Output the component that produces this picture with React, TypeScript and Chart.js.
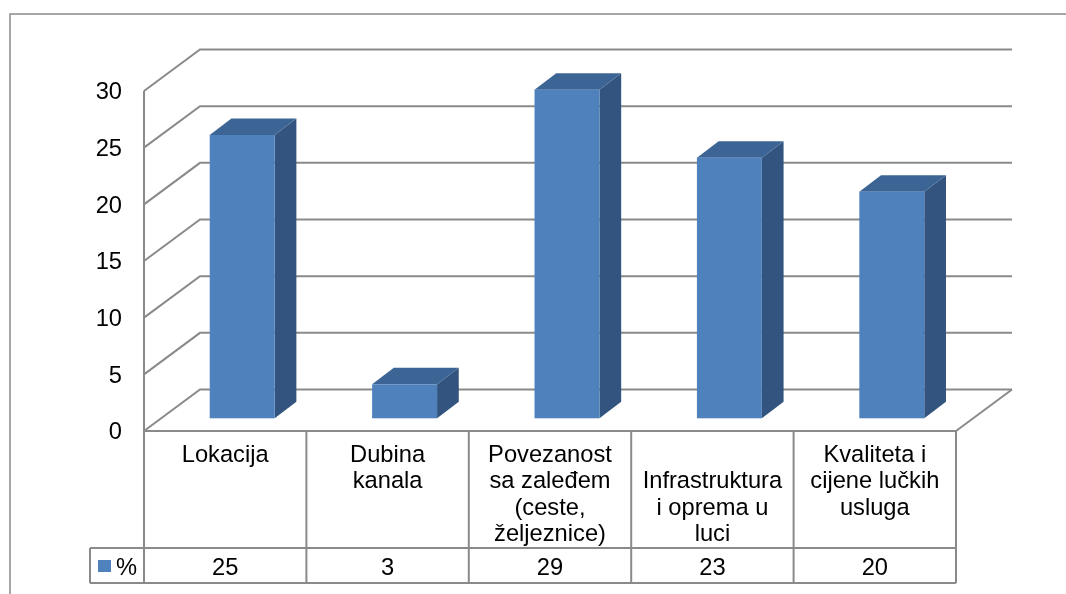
import React, { useEffect, useRef } from "react";
import { Chart, registerables } from "chart.js";

Chart.register(...registerables);

const categories: string[][] = [
  ["Lokacija"],
  ["Dubina", "kanala"],
  ["Povezanost", "sa zaleđem", "(ceste,", "željeznice)"],
  ["", "Infrastruktura", "i oprema u", "luci"],
  ["Kvaliteta i", "cijene lučkih", "usluga"],
];
const seriesName = "%";
const values: number[] = [25, 3, 29, 23, 20];
const yTicks: number[] = [0, 5, 10, 15, 20, 25, 30];

const FONT = '23.7px "Liberation Sans", Arial, sans-serif';
const LINE = "#8a8a8a";
const FRONT = "#4F81BD";
const TOP = "#3C6494";
const SIDE = "#32547F";

// 3D geometry
const WALL_DX = 56;
const WALL_DY = -41.5;
const BAR_FX = 17;
const BAR_FY = -12.7;
const BAR_DX = 21.7;
const BAR_DY = -16.5;
const LABEL_ROW_H = 117;
const VALUE_ROW_H = 35;
const LEGEND_W = 54;

const threeD = {
  id: "threeD",
  beforeDatasetsDraw(chart: any) {
    const ctx: CanvasRenderingContext2D = chart.ctx;
    const { left, right, top, bottom } = chart.chartArea;
    const ys = chart.scales.y;
    ctx.save();
    ctx.strokeStyle = LINE;
    ctx.lineWidth = 2;
    ctx.lineJoin = "miter";
    for (const v of yTicks) {
      const y = ys.getPixelForValue(v);
      ctx.beginPath();
      ctx.moveTo(left, y);
      ctx.lineTo(left + WALL_DX, y + WALL_DY);
      ctx.lineTo(right + WALL_DX, y + WALL_DY);
      ctx.stroke();
    }
    ctx.beginPath();
    ctx.moveTo(left, top);
    ctx.lineTo(left, bottom);
    ctx.stroke();
    ctx.beginPath();
    ctx.moveTo(right, bottom);
    ctx.lineTo(right + WALL_DX, bottom + WALL_DY);
    ctx.stroke();
    ctx.fillStyle = "#000";
    ctx.font = FONT;
    ctx.textAlign = "right";
    ctx.textBaseline = "alphabetic";
    for (const v of yTicks) {
      const y = ys.getPixelForValue(v);
      ctx.fillText(String(v), left - 22, y + 8.4);
    }
    ctx.restore();
  },
  afterDatasetsDraw(chart: any) {
    const ctx: CanvasRenderingContext2D = chart.ctx;
    const meta = chart.getDatasetMeta(0);
    ctx.save();
    meta.data.forEach((el: any) => {
      const { x, y, base, width } = el.getProps(["x", "y", "base", "width"], true);
      const x0 = x - width / 2 + BAR_FX;
      const x1 = x + width / 2 + BAR_FX;
      const yt = y + BAR_FY;
      const yb = base + BAR_FY;
      ctx.fillStyle = SIDE;
      ctx.beginPath();
      ctx.moveTo(x1, yt);
      ctx.lineTo(x1 + BAR_DX, yt + BAR_DY);
      ctx.lineTo(x1 + BAR_DX, yb + BAR_DY);
      ctx.lineTo(x1, yb);
      ctx.closePath();
      ctx.fill();
      ctx.fillStyle = TOP;
      ctx.beginPath();
      ctx.moveTo(x0, yt);
      ctx.lineTo(x0 + BAR_DX, yt + BAR_DY);
      ctx.lineTo(x1 + BAR_DX, yt + BAR_DY);
      ctx.lineTo(x1, yt);
      ctx.closePath();
      ctx.fill();
      ctx.fillStyle = FRONT;
      ctx.fillRect(x0, yt, x1 - x0, yb - yt);
    });
    ctx.restore();
  },
  afterDraw(chart: any) {
    const ctx: CanvasRenderingContext2D = chart.ctx;
    const { left, right, bottom } = chart.chartArea;
    const xs = chart.scales.x;
    const n = categories.length;
    const cw = (right - left) / n;
    const rowY = bottom + LABEL_ROW_H;
    const tableBottom = rowY + VALUE_ROW_H;
    ctx.save();
    ctx.strokeStyle = LINE;
    ctx.lineWidth = 1.5;
    ctx.beginPath();
    ctx.moveTo(10, chart.height);
    ctx.lineTo(10, 14);
    ctx.lineTo(chart.width, 14);
    ctx.stroke();
    ctx.lineWidth = 2;
    ctx.beginPath();
    ctx.moveTo(left, bottom);
    ctx.lineTo(right, bottom);
    ctx.moveTo(left - LEGEND_W, rowY);
    ctx.lineTo(right, rowY);
    ctx.moveTo(left - LEGEND_W, tableBottom);
    ctx.lineTo(right, tableBottom);
    ctx.moveTo(left - LEGEND_W, rowY);
    ctx.lineTo(left - LEGEND_W, tableBottom);
    for (let i = 0; i < n; i++) {
      const cx = xs.getPixelForValue(i);
      const xl = cx - cw / 2;
      ctx.moveTo(xl, bottom);
      ctx.lineTo(xl, tableBottom);
    }
    ctx.moveTo(right, bottom);
    ctx.lineTo(right, tableBottom);
    ctx.stroke();
    ctx.fillStyle = "#000";
    ctx.font = FONT;
    ctx.textAlign = "center";
    ctx.textBaseline = "alphabetic";
    categories.forEach((lines, i) => {
      const cx = xs.getPixelForValue(i);
      lines.forEach((ln, j) => {
        ctx.fillText(ln, cx, bottom + 30.5 + j * 26.5);
      });
      ctx.fillText(String(values[i]), cx, rowY + 26.5);
    });
    ctx.fillStyle = FRONT;
    ctx.fillRect(left - 46, rowY + 12, 13, 12);
    ctx.fillStyle = "#000";
    ctx.textAlign = "left";
    ctx.fillText(seriesName, left - 28, rowY + 26.5);
    ctx.restore();
  },
};

export default function App() {
  const ref = useRef<HTMLCanvasElement | null>(null);
  useEffect(() => {
    if (!ref.current) return;
    const chart = new Chart(ref.current, {
      type: "bar",
      data: {
        labels: categories.map((c) => c.filter(Boolean).join(" ")),
        datasets: [
          {
            label: seriesName,
            data: values,
            backgroundColor: "rgba(0,0,0,0)",
            borderWidth: 0,
            categoryPercentage: 0.8,
            barPercentage: 0.5,
          },
        ],
      },
      options: {
        animation: false,
        responsive: true,
        maintainAspectRatio: false,
        layout: { padding: { left: 144, right: 110, top: 91, bottom: 163 } },
        plugins: { legend: { display: false }, tooltip: { enabled: false } },
        scales: {
          x: { display: false, offset: true, grid: { display: false } },
          y: { display: false, min: 0, max: 30, grid: { display: false } },
        },
      },
      plugins: [threeD],
    });
    return () => chart.destroy();
  }, []);
  return (
    <div style={{ position: "fixed", left: 0, top: 0, width: 1066, height: 594, background: "#fff" }}>
      <canvas ref={ref} />
    </div>
  );
}
